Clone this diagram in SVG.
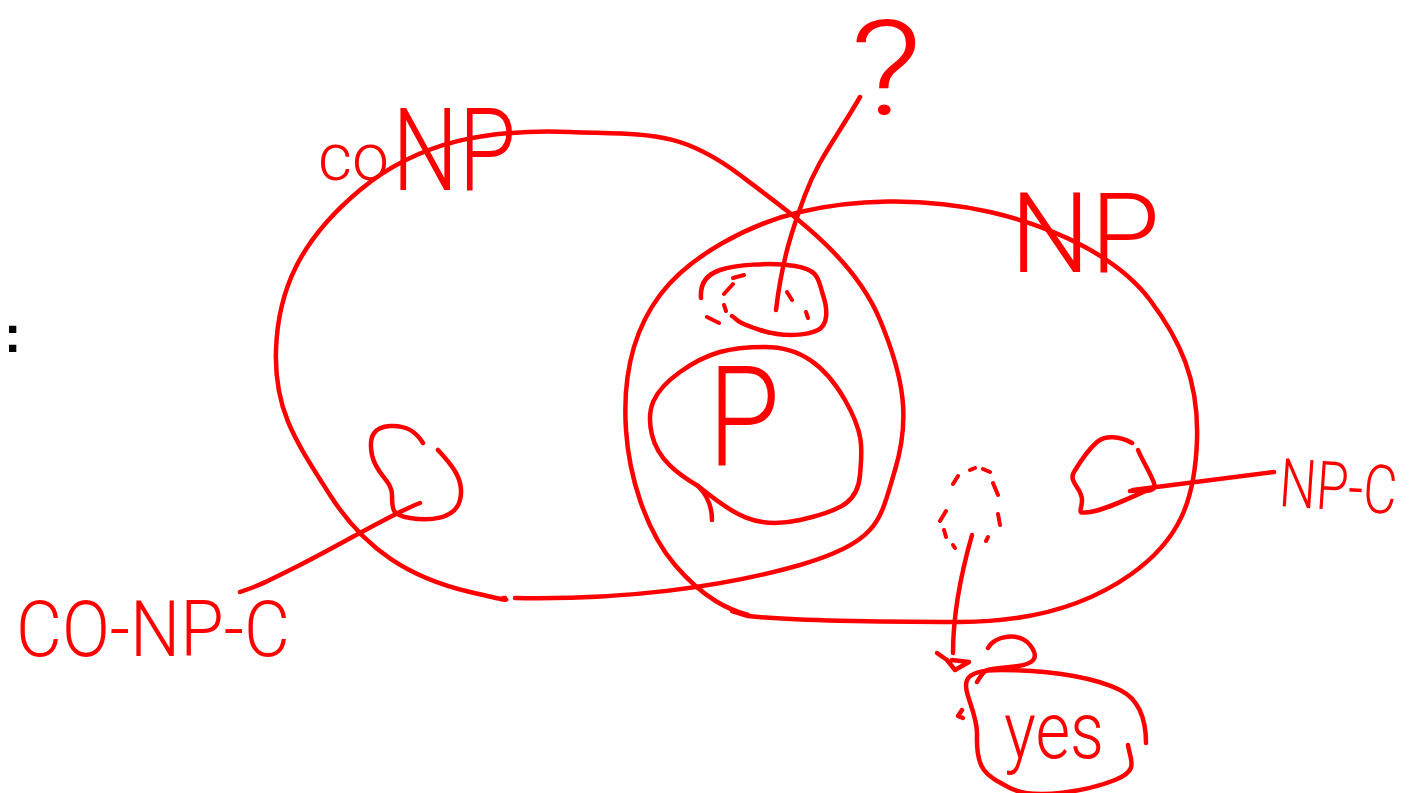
<svg xmlns="http://www.w3.org/2000/svg" width="1422" height="793" viewBox="0 0 1422 793">
  <style>
    .ink { fill: none; stroke: #ff0000; stroke-width: 4.5; stroke-linecap: round; stroke-linejoin: round; }
    .dash { fill: none; stroke: #ff0000; stroke-width: 4; stroke-linecap: round; }
    .lbl { fill: #ff0000; font-family: "Roboto", "Liberation Sans", sans-serif; font-weight: 300; }
  </style>
  <rect width="1422" height="793" fill="#ffffff"/>

  <!-- colon at the left margin -->
  <text x="4" y="352" font-family="Liberation Sans, sans-serif" font-weight="bold" font-size="52" fill="#000000">:</text>

  <!-- coNP class -->
  <g id="coNP">
    <path class="ink" d="M 515 598 C 620 600 720 588 800 565 S 880 520 895 470 S 905 380 880 320 S 800 220 740 175 S 650 135 570 132 S 420 140 360 190 S 278 290 276 350 S 295 440 330 495 S 410 578 470 592 S 495 597 505 598"/>
    <text class="lbl" x="318" y="180" font-size="66">co</text>
    <text class="lbl" x="392" y="190" font-size="115" textLength="124" lengthAdjust="spacingAndGlyphs">NP</text>
  </g>

  <!-- NP class -->
  <g id="NP">
    <path class="ink" d="M 732 611 L 748 616 C 800 622 900 622 960 622 S 1080 610 1130 575 S 1195 500 1197 440 S 1180 340 1150 300 S 1060 228 990 212 S 850 200 800 212 S 690 255 660 295 S 623 385 626 430 S 645 530 675 565 S 730 610 748 615"/>
    <text class="lbl" x="1010" y="272" font-size="112" textLength="150" lengthAdjust="spacingAndGlyphs">NP</text>
  </g>

  <!-- P class -->
  <g id="P">
    <path class="ink" d="M 712 520 Q 712 500 698 486"/>
    <path class="ink" d="M 698 486 C 678 474 658 460 652 435 S 652 392 680 372 S 730 347 765 347 S 825 365 845 400 S 862 450 860 475 S 845 510 800 520 S 735 515 698 486"/>
    <text class="lbl" x="708" y="465" font-size="140" textLength="72" lengthAdjust="spacingAndGlyphs">P</text>
  </g>

  <!-- open region between P and the intersection -->
  <g id="unknown-region">
    <path class="ink" d="M 701 298 C 700 285 705 275 720 270 S 770 262 795 266 S 818 280 823 295 S 828 325 818 330 S 785 338 760 330 S 738 320 732 316"/>
    <path class="dash" d="M 733 278 L 744 275 M 724 294 L 733 284 M 724 305 L 726 311 M 707 317 L 719 323 M 787 292 L 792 300 M 806 312 L 808 318 M 760 330 L 770 333"/>
    <text class="lbl" x="850" y="114" font-size="132" textLength="72" lengthAdjust="spacingAndGlyphs">?</text>
  </g>

  <!-- NP \ P region with open question -->
  <g id="np-minus-p">
    <path class="dash" d="M 970 470 L 975 468 M 983 469 L 990 472 M 953 484 L 958 476 M 993 483 L 998 495 M 940 521 L 946 511 M 998 514 L 1000 525 M 944 530 L 946 537 M 953 545 L 955 548 M 986 541 L 988 537"/>
  </g>

  <!-- co-NP-complete region -->
  <g id="coNP-C">
    <path class="ink" d="M 423 443 C 415 430 405 425 390 426 S 368 435 372 455 S 392 480 392 495 S 392 515 410 518 S 455 520 460 500 S 452 465 438 450"/>
    <text class="lbl" x="16" y="656" font-size="78" textLength="274" lengthAdjust="spacingAndGlyphs">CO-NP-C</text>
  </g>

  <!-- NP-complete region -->
  <g id="NP-C">
    <path class="ink" d="M 1132 443 C 1120 436 1105 435 1097 442 S 1080 462 1074 472 S 1082 488 1082 500 S 1075 514 1090 512 S 1130 498 1152 488"/>
    <path class="ink" d="M 1138 450 C 1142 460 1150 472 1154 483 S 1140 490 1130 491"/>
    <text class="lbl" font-size="52" transform="translate(1278 506) rotate(4) scale(1 1.3)">NP-C</text>
  </g>

  <!-- answer -->
  <g id="yes">
    <path class="ink" d="M 988 648 C 995 635 1020 632 1030 645 S 1035 665 1010 667 S 985 668 977 682"/>
    <path class="ink" d="M 1146 743 C 1146 720 1140 700 1120 690 S 1060 670 1000 670 S 978 700 977 735 S 985 775 1010 788 S 1090 790 1115 780 S 1130 760 1128 745"/>
    <path class="ink" d="M 962 710 L 958 716 L 963 718"/>
    <text class="lbl" x="1004" y="758" font-size="80" textLength="100" lengthAdjust="spacingAndGlyphs">yes</text>
  </g>

  <!-- connectors -->
  <g id="connectors">
    <path class="ink" d="M 776 310 C 782 260 792 230 805 195 S 835 140 860 97"/>
    <path class="ink" d="M 420 503 C 395 512 340 545 300 565 S 260 585 240 592"/>
    <path class="ink" d="M 1133 490 L 1274 472"/>
    <path class="ink" d="M 972 535 C 962 570 953 610 953 653"/>
    <path class="ink" d="M 937 653 L 947 660 L 955 670 L 969 662 L 952 660"/>
  </g>
</svg>
